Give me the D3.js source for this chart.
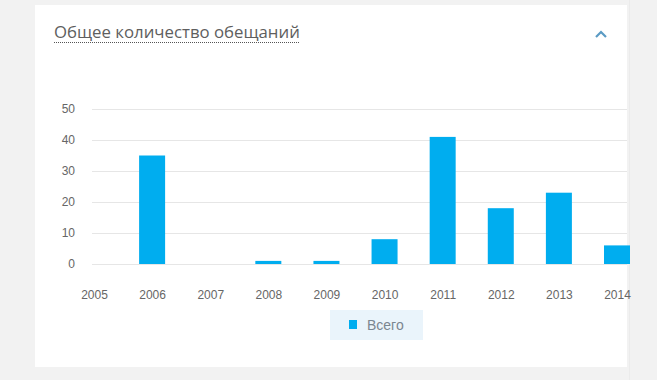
<!DOCTYPE html>
<html>
<head>
<meta charset="utf-8">
<script src="https://cdn.jsdelivr.net/npm/d3@7/dist/d3.min.js"></script>
<style>
  html, body { margin: 0; padding: 0; background: #f2f2f2; }
  svg { display: block; }
</style>
</head>
<body>
<svg id="chart" width="657" height="380"></svg>
<script>
const categories = ["2005","2006","2007","2008","2009","2010","2011","2012","2013","2014"];
const values = [0, 35, 0, 1, 1, 8, 41, 18, 23, 6];
const yTicks = [0, 10, 20, 30, 40, 50];
const seriesName = "Всего";
const title = "Общее количество обещаний";

const svg = d3.select("#chart");
const font = "'Open Sans', 'DejaVu Sans', Arial, sans-serif";
const tickFont = "'Liberation Sans', Arial, sans-serif";
const barColor = "#00adef";

// page background
svg.append("rect").attr("x", 0).attr("y", 0).attr("width", 657).attr("height", 380).attr("fill", "#f2f2f2");
// card
svg.append("rect").attr("x", 35).attr("y", 5).attr("width", 592).attr("height", 362).attr("fill", "#ffffff");
svg.append("rect").attr("x", 629).attr("y", 0).attr("width", 1).attr("height", 380).attr("fill", "#ebebeb");

// title
const t = svg.append("text").attr("x", 54).attr("y", 38)
  .attr("font-family", font).attr("font-size", 16.8).attr("fill", "#5e5e5e")
  .text(title);
const tw = t.node().getComputedTextLength();
svg.append("line").attr("x1", 54).attr("x2", 54 + tw).attr("y1", 42.5).attr("y2", 42.5)
  .attr("stroke", "#555").attr("stroke-width", 1).attr("stroke-dasharray", "1,1");

// chevron
svg.append("path").attr("d", "M596,37 L601,32 L606,37")
  .attr("fill", "none").attr("stroke", "#5b9bc4").attr("stroke-width", 2.2);

// scales
const y = d3.scaleLinear().domain([0, 50]).range([264, 109]);
const x = d3.scalePoint().domain(categories).range([94, 617]);
const barW = 26;

svg.append("defs").append("clipPath").attr("id", "cardclip")
  .append("rect").attr("x", 35).attr("y", 5).attr("width", 592).attr("height", 362);

// gridlines
const grid = svg.append("g").attr("clip-path", "url(#cardclip)");
grid.selectAll("line").data(yTicks).enter().append("line")
  .attr("x1", 92).attr("x2", 640)
  .attr("y1", d => Math.round(y(d)) + 0.5).attr("y2", d => Math.round(y(d)) + 0.5)
  .attr("stroke", "#e6e6e6").attr("stroke-width", 1);

// y axis labels
const yAxis = d3.axisLeft(y).tickValues(yTicks).tickSize(0).tickPadding(0);
const yg = svg.append("g").attr("transform", "translate(75,0)").call(yAxis);
yg.select(".domain").remove();
yg.selectAll("text").attr("font-family", tickFont).attr("font-size", 12).attr("fill", "#666");

// bars
svg.append("g").selectAll("rect").data(values).enter().append("rect")
  .attr("x", (d, i) => x(categories[i]) - barW / 2)
  .attr("width", barW)
  .attr("y", d => y(d))
  .attr("height", d => y(0) - y(d))
  .attr("fill", barColor);

// x axis labels
const xAxis = d3.axisBottom(x).tickSize(0).tickPadding(0);
const xg = svg.append("g").attr("transform", "translate(0,290)").call(xAxis);
xg.select(".domain").remove();
xg.selectAll("text").attr("font-family", tickFont).attr("font-size", 12).attr("fill", "#666").attr("dy", "0.71em");

// legend
svg.append("rect").attr("x", 330).attr("y", 310).attr("width", 93).attr("height", 30).attr("fill", "#eaf4fb");
svg.append("rect").attr("x", 349).attr("y", 320).attr("width", 8).attr("height", 9).attr("fill", barColor);
svg.append("text").attr("x", 367).attr("y", 330).attr("font-family", tickFont).attr("font-size", 14)
  .attr("fill", "#7a8690").text(seriesName);
</script>
</body>
</html>
